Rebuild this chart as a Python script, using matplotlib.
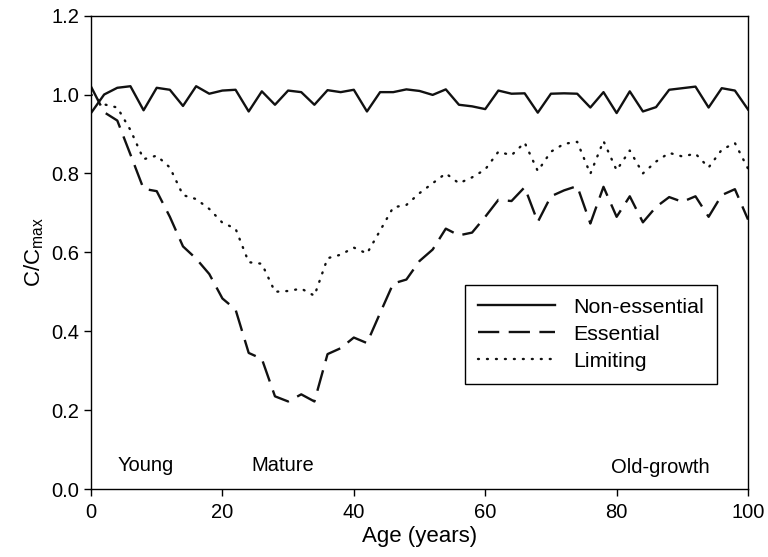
import numpy as np
import matplotlib
matplotlib.use("Agg")
import matplotlib.pyplot as plt

plt.rcParams['font.family'] = ['Liberation Sans', 'DejaVu Sans']
plt.rcParams['mathtext.fontset'] = 'custom'
plt.rcParams['mathtext.rm'] = 'Liberation Sans'

# stand age, every 2 years
age = np.arange(0, 101, 2)

non_essential = [0.953, 1.0, 1.017, 1.021, 0.96, 1.017, 1.012, 0.971, 1.021, 1.002,
                 1.01, 1.012, 0.957, 1.008, 0.974, 1.01, 1.006, 0.974, 1.011, 1.006,
                 1.012, 0.957, 1.006, 1.006, 1.013, 1.009, 0.999, 1.013, 0.974, 0.970,
                 0.963, 1.01, 1.002, 1.003, 0.954, 1.002, 1.003, 1.002, 0.967, 1.006,
                 0.953, 1.008, 0.957, 0.968, 1.012, 1.016, 1.02, 0.967, 1.016, 1.01,
                 0.962]

essential = [1.02, 0.955, 0.934, 0.848, 0.761, 0.755, 0.69, 0.615, 0.584, 0.545,
             0.483, 0.455, 0.345, 0.33, 0.235, 0.222, 0.24, 0.222, 0.342, 0.357,
             0.384, 0.37, 0.446, 0.521, 0.531, 0.578, 0.607, 0.66, 0.643, 0.65,
             0.69, 0.733, 0.73, 0.765, 0.677, 0.742, 0.757, 0.768, 0.673, 0.766,
             0.69, 0.742, 0.676, 0.715, 0.74, 0.728, 0.742, 0.69, 0.745, 0.76,
             0.683]

limiting = [1.0, 0.975, 0.967, 0.91, 0.836, 0.845, 0.815, 0.745, 0.735, 0.71,
            0.675, 0.66, 0.575, 0.571, 0.50, 0.502, 0.508, 0.49, 0.585, 0.594,
            0.612, 0.597, 0.655, 0.714, 0.72, 0.75, 0.775, 0.80, 0.775, 0.79,
            0.81, 0.855, 0.846, 0.878, 0.806, 0.855, 0.875, 0.88, 0.799, 0.882,
            0.808, 0.858, 0.80, 0.83, 0.852, 0.843, 0.85, 0.815, 0.86, 0.877,
            0.812]

stages = ["Young", "Mature", "Old-growth"]
stage_x = [8.4, 29.2, 86.6]
stage_y = [0.06, 0.06, 0.055]

fig = plt.figure(figsize=(7.68, 5.57), dpi=100)
ax = fig.add_axes([0.1185, 0.122, 0.8555, 0.85])

ax.plot(age, non_essential, color='#111111', linewidth=1.7, label='Non-essential')
ax.plot(age, essential, color='#111111', linewidth=1.7, linestyle=(0, (9, 4)),
        label='Essential')
ax.plot(age, limiting, color='#111111', linewidth=1.7, linestyle=(0, (0.4, 3.4)),
        dash_capstyle='round', label='Limiting')

for name, sx, sy in zip(stages, stage_x, stage_y):
    ax.text(sx, sy, name, fontsize=14.5, ha='center', va='center')

ax.set_xlim(0, 100)
ax.set_ylim(0, 1.2)
ax.set_xticks(np.arange(0, 101, 20))
ax.set_yticks(np.arange(0, 1.21, 0.2))
ax.yaxis.set_major_formatter(matplotlib.ticker.FormatStrFormatter('%.1f'))
ax.tick_params(direction='out', length=5, width=1, labelsize=14.5, top=False, right=False)
ax.tick_params(axis='x', pad=5)
for s in ax.spines.values():
    s.set_linewidth(1)

ax.set_xlabel("Age (years)", fontsize=16, labelpad=3)
ax.set_ylabel(r"C/C$_\mathregular{max}$", fontsize=16, labelpad=4)

leg = ax.legend(loc='upper left', bbox_to_anchor=(0.5685, 0.432), borderaxespad=0,
                fontsize=15.4, handlelength=3.6, handletextpad=0.85, borderpad=0.62,
                labelspacing=0.37, fancybox=False, framealpha=1, edgecolor='black')
leg.get_frame().set_linewidth(1)

plt.savefig('out.png', dpi=100)
